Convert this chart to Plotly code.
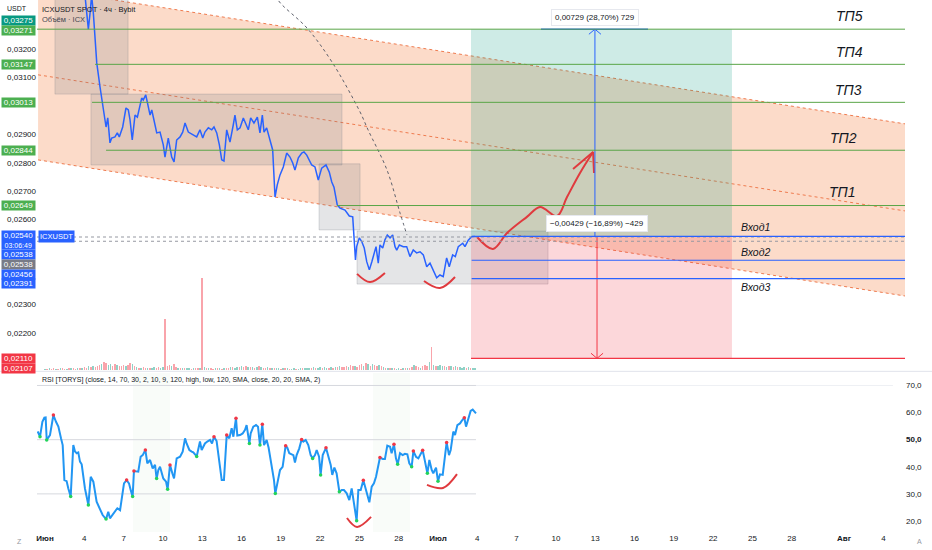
import plotly.graph_objects as go

# ---------------- data ----------------
# x values are days since 1 June (4h chart), prices in USDT
price_day = [2.90, 3.05, 3.31, 3.44, 3.56, 3.69, 3.95, 4.20, 4.45, 4.66, 4.79, 4.96, 5.09, 5.34, 5.52, 5.67, 5.93,
             6.18, 6.36, 6.49, 6.66, 6.87, 7.05, 7.25, 7.38, 7.50, 7.69, 7.81, 8.02, 8.15, 8.32, 8.53, 8.78, 9.03,
             9.16, 9.41, 9.67, 9.85, 10.05, 10.31, 10.51, 10.69, 10.94, 11.32, 11.58, 11.83, 12.04, 12.21, 12.47,
             12.73, 12.90, 13.11, 13.31, 13.49, 13.66, 13.87, 14.12, 14.37, 14.50, 14.68, 14.89, 15.14, 15.34,
             15.52, 15.70, 15.95, 16.21, 16.41, 16.59, 16.72, 16.92, 17.18, 17.38, 17.56, 17.73, 17.94, 18.19,
             18.45, 18.70, 18.91, 19.08, 19.34, 19.60, 19.77, 19.98, 20.36, 20.61, 20.86, 21.12, 21.45, 21.70,
             21.89, 22.06, 22.31, 22.52, 22.90, 23.23, 23.49, 23.62, 23.70, 23.79, 23.99, 24.18, 24.37, 24.56,
             24.76, 24.95, 25.11, 25.27, 25.44, 25.57, 25.78, 25.95, 26.13, 26.34, 26.54, 26.72, 26.85, 27.05,
             27.35, 27.61, 27.86, 28.11, 28.37, 28.63, 28.88, 29.14, 29.39, 29.64, 29.90, 30.15, 30.40, 30.66,
             30.86, 31.12, 31.32, 31.55, 31.89, 32.06, 32.31, 32.57, 32.82]
price_val = [0.03460, 0.03380, 0.03271, 0.03328, 0.03390, 0.03328, 0.03152, 0.03067, 0.02986, 0.02926, 0.02958,
             0.02870, 0.02887, 0.02891, 0.02905, 0.02891, 0.02926, 0.02993, 0.02986, 0.02951, 0.02880, 0.02968,
             0.02961, 0.02997, 0.03028, 0.03021, 0.03039, 0.03014, 0.02968, 0.02986, 0.02951, 0.02905, 0.02908,
             0.02863, 0.02820, 0.02887, 0.02820, 0.02803, 0.02880, 0.02891, 0.02908, 0.02940, 0.02908, 0.02898,
             0.02891, 0.02916, 0.02887, 0.02908, 0.02923, 0.02916, 0.02926, 0.02905, 0.02863, 0.02810, 0.02806,
             0.02916, 0.02873, 0.02933, 0.02968, 0.02916, 0.02923, 0.02958, 0.02933, 0.02916, 0.02958, 0.02940,
             0.02961, 0.02905, 0.02968, 0.02908, 0.02923, 0.02880, 0.02845, 0.02679, 0.02722, 0.02757, 0.02785,
             0.02834, 0.02820, 0.02799, 0.02774, 0.02817, 0.02834, 0.02838, 0.02827, 0.02792, 0.02785, 0.02739,
             0.02781, 0.02792, 0.02767, 0.02732, 0.02714, 0.02651, 0.02640, 0.02633, 0.02612, 0.02609, 0.02535,
             0.02457, 0.02504, 0.02535, 0.02522, 0.02499, 0.02451, 0.02422, 0.02451, 0.02482, 0.02504, 0.02446,
             0.02510, 0.02499, 0.02528, 0.02545, 0.02535, 0.02545, 0.02504, 0.02492, 0.02510, 0.02504, 0.02504,
             0.02469, 0.02492, 0.02482, 0.02486, 0.02475, 0.02433, 0.02446, 0.02422, 0.02394, 0.02404, 0.02398,
             0.02464, 0.02433, 0.02475, 0.02469, 0.02504, 0.02516, 0.02504, 0.02527, 0.02539, 0.02540]

rsi_day = [-0.56, -0.38, -0.20, -0.05, 0.05, 0.13, 0.38, 0.51, 0.64, 0.84,
           1.02, 1.22, 1.35, 1.48, 1.65, 1.78, 1.96, 2.16, 2.29, 2.42,
           2.54, 2.67, 2.80, 3.05, 3.31, 3.49, 3.69, 3.94, 4.20, 4.40,
           4.66, 4.83, 4.96, 5.17, 5.34, 5.52, 5.73, 5.93, 6.03, 6.23,
           6.41, 6.56, 6.69, 6.79, 7.00, 7.12, 7.30, 7.46, 7.66, 7.81,
           8.02, 8.22, 8.40, 8.52, 8.65, 8.78, 9.03, 9.24, 9.36, 9.54,
           9.72, 9.85, 10.05, 10.31, 10.51, 10.69, 10.81, 11.02, 11.20, 11.32,
           11.58, 11.83, 11.96, 12.09, 12.21, 12.39, 12.60, 12.75, 12.90, 13.10,
           13.31, 13.49, 13.66, 13.87, 14.07, 14.25, 14.38, 14.58, 14.68, 14.89,
           15.09, 15.27, 15.39, 15.60, 15.70, 15.90, 16.11, 16.26, 16.41, 16.59,
           16.72, 16.92, 17.07, 17.30, 17.48, 17.58, 17.74, 17.94, 18.14, 18.37,
           18.50, 18.65, 18.83, 18.96, 19.08, 19.21, 19.41, 19.59, 19.72, 19.90,
           20.10, 20.28, 20.43, 20.61, 20.74, 20.92, 21.04, 21.20, 21.45, 21.63,
           21.81, 21.93, 22.09, 22.26, 22.47, 22.65, 22.82, 23.03, 23.23, 23.41,
           23.59, 23.79, 23.92, 24.10, 24.30, 24.43, 24.61, 24.76, 24.94, 25.11,
           25.27, 25.45, 25.57, 25.78, 25.95, 26.13, 26.34, 26.46, 26.64, 26.79,
           26.92, 27.10, 27.30, 27.48, 27.66, 27.81, 27.99, 28.12, 28.32, 28.50,
           28.63, 28.83, 29.01, 29.19, 29.34, 29.52, 29.64, 29.85, 30.00, 30.15,
           30.36, 30.53, 30.66, 30.84, 30.97, 31.17, 31.30, 31.48, 31.68, 31.81,
           32.01, 32.14, 32.32, 32.49, 32.65, 32.75, 32.90]
rsi_val = [53.0, 51.1, 56.6, 58.1, 58.2, 49.9, 51.7, 55.4, 59.1, 56.6,
           54.8, 50.5, 48.0, 35.1, 34.7, 32.0, 29.0, 48.0, 45.6, 45.0,
           45.3, 41.9, 40.9, 32.0, 25.9, 36.3, 34.5, 27.1, 24.0, 22.2,
           20.7, 23.4, 21.0, 22.4, 23.4, 24.7, 24.0, 30.2, 33.9, 35.1,
           33.9, 31.1, 29.0, 38.4, 38.2, 38.2, 43.7, 44.3, 46.2, 41.3,
           42.5, 39.4, 40.7, 35.7, 38.8, 40.0, 35.7, 34.5, 31.7, 40.7,
           37.6, 35.7, 43.1, 43.7, 45.6, 50.5, 48.6, 46.2, 45.6, 45.3,
           43.8, 49.3, 46.2, 47.4, 48.6, 49.3, 49.9, 48.6, 51.1, 49.5,
           42.5, 35.1, 35.1, 51.7, 50.5, 54.2, 51.1, 57.9, 51.5, 51.7,
           52.3, 53.6, 55.4, 48.6, 52.3, 54.8, 55.4, 54.8, 48.0, 55.7,
           48.0, 49.9, 47.0, 40.7, 35.1, 30.1, 34.5, 38.8, 40.0, 47.8,
           47.0, 45.0, 44.6, 44.3, 41.6, 44.3, 46.8, 50.1, 49.3, 49.9,
           48.0, 44.3, 43.1, 44.3, 46.2, 43.7, 37.0, 44.3, 47.0, 44.3,
           40.7, 37.0, 39.7, 37.6, 30.8, 31.4, 31.4, 30.2, 27.7, 32.0,
           26.5, 20.1, 31.4, 31.4, 35.0, 32.7, 29.0, 26.9, 32.7, 33.9,
           36.3, 40.9, 43.4, 42.9, 42.9, 47.8, 47.4, 45.0, 48.3, 43.1,
           40.9, 45.0, 44.3, 44.8, 44.6, 41.3, 40.0, 45.8, 43.7, 43.1,
           44.3, 46.1, 41.9, 37.6, 42.5, 38.8, 37.6, 39.7, 34.7, 37.2,
           37.0, 43.1, 49.0, 44.3, 46.2, 53.0, 51.7, 55.4, 56.0, 56.9,
           58.1, 54.8, 57.9, 60.6, 61.1, 60.6, 59.7]

rsi_hi_day = [0.64, 6.23, 6.79, 7.66, 9.54, 12.90, 13.87, 14.58, 16.59, 18.37, 19.59, 21.45, 24.30, 25.57, 26.64,
              28.12, 28.83, 30.66, 32.01]
rsi_hi_val = [59.1, 35.1, 38.4, 46.2, 40.7, 51.1, 51.7, 57.9, 55.7, 47.8, 50.1, 47.0, 35.0, 43.4, 48.3,
              45.8, 46.1, 49.0, 58.1]
rsi_lo_day = [-0.38, 0.13, 1.96, 3.31, 4.66, 6.69, 8.52, 9.36, 11.58, 15.60, 16.41, 17.58, 20.43, 21.04, 22.47,
              23.79, 26.92, 27.99, 29.19, 30.00]
rsi_lo_val = [51.1, 49.9, 29.0, 25.9, 20.7, 29.0, 35.7, 31.7, 43.8, 48.6, 48.0, 30.1, 43.1, 37.0, 30.8,
              20.1, 40.9, 40.0, 37.6, 34.7]

# volume (thousand ICX) of the 4h bars from 1 June, and bar direction (g = up, r = down)
vol_val = [70, 50, 80, 60, 90, 60, 60, 80, 100, 70, 60, 90, 80, 100, 70, 120, 90, 110,
           150, 120, 200, 160, 180, 140, 220, 260, 300, 400, 350, 250, 280, 200, 320, 250, 180, 220,
           260, 200, 240, 330, 300, 180, 150, 120, 100, 140, 90, 110, 80, 100, 130, 90, 160, 120,
           140, 2550, 200, 260, 180, 300, 150, 120, 90, 100, 80, 110, 90, 70, 100, 80, 120, 90,
           4600, 150, 100, 80, 90, 70, 90, 100, 80, 70, 90, 120, 100, 130, 150, 120, 160, 140,
           180, 150, 200, 170, 140, 160, 120, 150, 180, 130, 100, 120, 140, 110, 90, 100, 120, 80,
           70, 90, 80, 100, 70, 60, 80, 60, 70, 90, 80, 100, 90, 120, 100, 140, 110, 90,
           130, 110, 150, 120, 100, 140, 120, 150, 130, 180, 140, 160, 200, 160, 240, 180, 220, 150,
           250, 300, 200, 350, 280, 220, 300, 240, 200, 260, 180, 150, 120, 90, 110, 80, 100, 70,
           90, 70, 100, 80, 110, 90, 130, 250, 180, 160, 120, 200, 260, 200, 400, 1150, 250, 220,
           200, 250, 180, 220, 160, 200, 180, 150, 200, 140, 160, 120, 130, 110, 150, 120, 100, 90]
vol_dir = ("grgrrg" "rgrrgr" "grrgrg" "rrgrgr" "rrgrrg" "grrgrr" "rgrrgr" "grgrrg" "rggrrg" "grrrgr"
           "rgrgrg" "grgrrg" "rgrgrr" "grgrgr" "rgrggr" "grrgrg" "rgrgrr" "grgrgg" "rgrgrg" "grggrg"
           "ggrgrg" "grggrg" "rgrgrr" "rgrrgr" "rrgrgr" "grrgrg" "rgrgrg" "grgrgr" "rgrrgr" "rrgrgr"
           "gggrgr" "grgrgg" "grgrgg")
bar_hours = 4

tick_day = [0, 3, 6, 9, 12, 15, 18, 21, 24, 27, 30, 33, 36, 39, 42, 45, 48, 51, 54, 57, 61, 64]
tick_text = ["<b>Июн</b>", "4", "7", "10", "13", "16", "19", "22", "25", "28", "<b>Июл</b>", "4", "7", "10",
             "13", "16", "19", "22", "25", "28", "<b>Авг</b>", "4"]

price_ticks = [0.032, 0.031, 0.029, 0.028, 0.027, 0.026, 0.023, 0.022]
rsi_ticks = [20, 30, 40, 50, 60, 70]

# drawings
tp_names = ["ТП1", "ТП2", "ТП3", "ТП4", "ТП5"]
tp_levels = [0.02649, 0.02844, 0.03013, 0.03147, 0.03271]
tp_start = [22.29, 4.66, 3.59, 3.82, -0.61]
tp_label_day = [60.84, 60.92, 61.30, 61.45, 61.45]
tp_label_val = [0.02697, 0.02887, 0.03056, 0.03191, 0.03318]

entry_names = ["Вход1", "Вход2", "Вход3"]
entry_levels = [0.02540, 0.02456, 0.02391]
entry_label_day = [54.27, 54.20, 54.20]
entry_label_val = [0.02573, 0.02485, 0.02362]
stop_level = 0.02110
pos_day = [32.52, 52.44]
draw_end = 65.65

channel_day = [-0.53, 65.65]
channel_top = [0.03416, 0.02937]
channel_mid = [0.03110, 0.02630]
channel_bot = [0.02810, 0.02330]

box_day0 = [0.76, 3.51, 20.92, 23.82]
box_day1 = [6.34, 22.67, 24.05, 38.40]
box_top = [0.0345, 0.03042, 0.02796, 0.02559]
box_bot = [0.03042, 0.02792, 0.02563, 0.02372]

arc_day = [17.55, 17.79, 20.00, 21.91, 24.05, 24.66, 26.11, 27.10, 27.63]
arc_val = [0.03410, 0.03374, 0.03275, 0.03155, 0.02979, 0.02916, 0.02774, 0.02623, 0.02545]

fc_day = [32.98, 34.20, 35.27, 36.79, 37.79, 39.08, 39.85, 40.84, 41.84]
fc_val = [0.02538, 0.02496, 0.02552, 0.02609, 0.02644, 0.02612, 0.02679, 0.02764, 0.02838]
fc_head_day = [40.31, 41.84, 41.91]
fc_head_val = [0.02778, 0.02838, 0.02764]

smile1_day = [23.82, 24.81, 25.95]
smile1_val = [0.02408, 0.02379, 0.02411]
smile2_day = [28.93, 30.15, 31.30]
smile2_val = [0.02383, 0.02358, 0.02397]
rsi_smile1_day = [23.05, 23.82, 24.89]
rsi_smile1_val = [21.1, 17.8, 21.5]
rsi_smile2_day = [29.16, 30.38, 31.45]
rsi_smile2_val = [33.3, 32.2, 37.3]

measure_up_day = 41.98
measure_dn_day = 42.14
measure_cap = [37.86, 46.03]
measure_up_text = "0,00729 (28,70%) 729"
measure_dn_text = "\u22120,00429 (\u221216,89%) \u2212429"
measure_up_label = (42.02, 0.03312)
measure_dn_label = (42.14, 0.02584)

green_bands = [(6.72, 9.54), (25.04, 27.86)]

axis_labels = [
    ("0,03275", 0.03275, "#089981", 8),
    ("0,03271", 0.03271, "#4caf50", -1),
    ("0,03147", 0.03147, "#4caf50", 0),
    ("0,03013", 0.03013, "#4caf50", 0),
    ("0,02844", 0.02844, "#4caf50", 0),
    ("0,02649", 0.02649, "#4caf50", 0),
    ("0,02538", 0.02538, "#2962ff", -17),
    ("0,02538", 0.02538, "#787b86", -27),
    ("0,02456", 0.02456, "#2962ff", -14),
    ("0,02391", 0.02391, "#2962ff", -5),
    ("0,02110", 0.02110, "#f23645", 0),
    ("0,02107", 0.02107, "#f23645", -9),
]

# ---------------- figure ----------------
X_RANGE = [-0.611, 65.65]
P_RANGE = [0.020689, 0.033739]
R_RANGE = [15.94, 74.6]
FONT = "Liberation Sans, Arial, sans-serif"
GREEN_LINE = "#5aa548"
BLUE = "#2962ff"
RED = "#f23645"
DRAW_RED = "#e03a3e"

fig = go.Figure()

# volume
vol_x = [i * bar_hours / 24 for i in range(len(vol_val))]
vol_colors = ["rgba(8,153,129,0.45)" if c == "g" else "rgba(242,54,69,0.45)" for c in vol_dir]
fig.add_trace(go.Bar(x=vol_x, y=vol_val, width=0.11, marker=dict(color=vol_colors, line=dict(width=0)),
                     xaxis="x", yaxis="y3", hoverinfo="skip"))

# price line
fig.add_trace(go.Scatter(x=price_day, y=price_val, mode="lines", line=dict(color=BLUE, width=1.5),
                         xaxis="x", yaxis="y", hoverinfo="skip"))

# dashed arc
fig.add_trace(go.Scatter(x=arc_day, y=arc_val, mode="lines", line=dict(color="#5d606b", width=1, dash="3px,3px",
                         shape="spline"), xaxis="x", yaxis="y", hoverinfo="skip"))

# red hand drawings
for dx, dy in [(fc_day, fc_val), (smile1_day, smile1_val), (smile2_day, smile2_val)]:
    fig.add_trace(go.Scatter(x=dx, y=dy, mode="lines", line=dict(color=DRAW_RED, width=2, shape="spline"),
                             xaxis="x", yaxis="y", hoverinfo="skip"))
fig.add_trace(go.Scatter(x=fc_head_day, y=fc_head_val, mode="lines", line=dict(color=DRAW_RED, width=2),
                         xaxis="x", yaxis="y", hoverinfo="skip"))

# measure arrows
tp5 = tp_levels[-1]
entry = entry_levels[0]
fig.add_trace(go.Scatter(x=[measure_up_day, measure_up_day], y=[entry, tp5], mode="lines",
                         line=dict(color=BLUE, width=1), xaxis="x", yaxis="y", hoverinfo="skip"))
fig.add_trace(go.Scatter(x=[measure_up_day - 0.46, measure_up_day, measure_up_day + 0.46],
                         y=[tp5 - 0.00018, tp5, tp5 - 0.00018], mode="lines",
                         line=dict(color=BLUE, width=1), xaxis="x", yaxis="y", hoverinfo="skip"))
fig.add_trace(go.Scatter(x=measure_cap, y=[tp5, tp5], mode="lines", line=dict(color=BLUE, width=1.5),
                         xaxis="x", yaxis="y", hoverinfo="skip"))
fig.add_trace(go.Scatter(x=[measure_dn_day, measure_dn_day], y=[entry, stop_level], mode="lines",
                         line=dict(color=RED, width=1), xaxis="x", yaxis="y", hoverinfo="skip"))
fig.add_trace(go.Scatter(x=[measure_dn_day - 0.46, measure_dn_day, measure_dn_day + 0.46],
                         y=[stop_level + 0.00018, stop_level, stop_level + 0.00018], mode="lines",
                         line=dict(color=RED, width=1), xaxis="x", yaxis="y", hoverinfo="skip"))
fig.add_trace(go.Scatter(x=[measure_up_day, measure_cap[1]], y=[entry, entry], mode="lines",
                         line=dict(color=RED, width=1), xaxis="x", yaxis="y", hoverinfo="skip"))

# RSI
fig.add_trace(go.Scatter(x=rsi_day, y=rsi_val, mode="lines", line=dict(color="#2196f3", width=2),
                         xaxis="x2", yaxis="y2", hoverinfo="skip"))
fig.add_trace(go.Scatter(x=rsi_hi_day, y=rsi_hi_val, mode="markers", marker=dict(color="#f23645", size=3.5),
                         xaxis="x2", yaxis="y2", hoverinfo="skip"))
fig.add_trace(go.Scatter(x=rsi_lo_day, y=rsi_lo_val, mode="markers", marker=dict(color="#22d35a", size=3.5),
                         xaxis="x2", yaxis="y2", hoverinfo="skip"))
for dx, dy in [(rsi_smile1_day, rsi_smile1_val), (rsi_smile2_day, rsi_smile2_val)]:
    fig.add_trace(go.Scatter(x=dx, y=dy, mode="lines", line=dict(color=DRAW_RED, width=2, shape="spline"),
                             xaxis="x2", yaxis="y2", hoverinfo="skip"))

shapes = []
# channel fill + dotted borders
shapes.append(dict(type="path", xref="x", yref="y", layer="below", line=dict(width=0),
                   fillcolor="rgba(244,137,76,0.30)",
                   path=f"M {channel_day[0]},{channel_top[0]} L {channel_day[1]},{channel_top[1]} "
                        f"L {channel_day[1]},{channel_bot[1]} L {channel_day[0]},{channel_bot[0]} Z"))
for ys in (channel_top, channel_mid, channel_bot):
    shapes.append(dict(type="line", xref="x", yref="y", layer="below", x0=channel_day[0], x1=channel_day[1],
                       y0=ys[0], y1=ys[1], line=dict(color="#ef7b4f", width=1, dash="dot")))
# gray range boxes
for a, b, t, btm in zip(box_day0, box_day1, box_top, box_bot):
    shapes.append(dict(type="rect", xref="x", yref="y", layer="below", x0=a, x1=b, y0=btm, y1=t,
                       fillcolor="rgba(120,123,134,0.20)", line=dict(color="rgba(120,123,134,0.25)", width=1)))
# long position zones
shapes.append(dict(type="rect", xref="x", yref="y", layer="below", x0=pos_day[0], x1=pos_day[1], y0=entry, y1=tp5,
                   fillcolor="rgba(8,153,129,0.20)", line=dict(width=0)))
shapes.append(dict(type="rect", xref="x", yref="y", layer="below", x0=pos_day[0], x1=pos_day[1], y0=stop_level,
                   y1=entry, fillcolor="rgba(242,54,69,0.20)", line=dict(width=0)))
# dotted last price lines
for lvl in (0.02538, 0.02523):
    shapes.append(dict(type="line", xref="x", yref="y", x0=X_RANGE[0], x1=draw_end, y0=lvl, y1=lvl,
                       line=dict(color="#9598a1", width=1, dash="dot")))
# TP lines
for lvl, st in zip(tp_levels, tp_start):
    shapes.append(dict(type="line", xref="x", yref="y", x0=st, x1=draw_end, y0=lvl, y1=lvl,
                       line=dict(color=GREEN_LINE, width=1)))
# entry + stop lines
for lvl in entry_levels:
    shapes.append(dict(type="line", xref="x", yref="y", x0=pos_day[0] + 0.05, x1=draw_end, y0=lvl, y1=lvl,
                       line=dict(color=BLUE, width=1.2)))
shapes.append(dict(type="line", xref="x", yref="y", x0=pos_day[0], x1=draw_end, y0=stop_level, y1=stop_level,
                   line=dict(color=RED, width=1.2)))
# RSI pane
for a, b in green_bands:
    shapes.append(dict(type="rect", xref="x2", yref="y2", layer="below", x0=a, x1=b, y0=R_RANGE[0], y1=R_RANGE[1],
                       fillcolor="rgba(76,175,80,0.035)", line=dict(width=0)))
shapes.append(dict(type="line", xref="x2", yref="y2", layer="below", x0=X_RANGE[0], x1=64.73, y0=70, y1=70,
                   line=dict(color="#eef0f4", width=1)))
for lvl in (70, 50, 30):
    shapes.append(dict(type="line", xref="x2", yref="y2", layer="below", x0=X_RANGE[0], x1=32.9, y0=lvl, y1=lvl,
                       line=dict(color="#d6d8de", width=1)))
# pane separator
shapes.append(dict(type="line", xref="paper", yref="paper", x0=-0.05, x1=1.05, y0=0.3020, y1=0.3020,
                   line=dict(color="#e0e3eb", width=1)))

annotations = []
for lbl, lvl, col, shift in axis_labels:
    annotations.append(dict(xref="paper", yref="y", x=0, y=lvl, xanchor="right", yanchor="middle", xshift=-1,
                            yshift=shift, text=lbl, showarrow=False, bgcolor=col, width=33, height=9,
                            borderpad=0, font=dict(color="white", size=8, family=FONT)))
annotations.append(dict(xref="paper", yref="y", x=0, y=0.02540, xanchor="right", yanchor="middle", xshift=-1,
                        yshift=-4, text="0,02540<br><span style='font-size:7px'>03:06:49</span>", showarrow=False,
                        bgcolor=BLUE, width=33, height=18, borderpad=0,
                        font=dict(color="white", size=8, family=FONT)))
annotations.append(dict(xref="paper", yref="y", x=0, y=0.02540, xanchor="left", yanchor="middle", xshift=1,
                        text="ICXUSDT", showarrow=False, bgcolor=BLUE, borderpad=1,
                        font=dict(color="white", size=7.5, family=FONT)))
for name, dx, dy in zip(tp_names, tp_label_day, tp_label_val):
    annotations.append(dict(xref="x", yref="y", x=dx, y=dy, text=f"<i>{name}</i>", showarrow=False,
                            font=dict(color="#131722", size=14, family=FONT)))
for name, dx, dy in zip(entry_names, entry_label_day, entry_label_val):
    annotations.append(dict(xref="x", yref="y", x=dx, y=dy, text=f"<i>{name}</i>", showarrow=False,
                            font=dict(color="#131722", size=10.5, family=FONT)))
for txt, (dx, dy) in [(measure_up_text, measure_up_label), (measure_dn_text, measure_dn_label)]:
    annotations.append(dict(xref="x", yref="y", x=dx, y=dy, text=txt, showarrow=False, bgcolor="white",
                            bordercolor="#e6e8ee", borderwidth=1, borderpad=3,
                            font=dict(color="#131722", size=8, family=FONT)))
annotations += [
    dict(xref="paper", yref="paper", x=0, y=1, xanchor="left", yanchor="top", xshift=3, yshift=-3,
         text="ICXUSDT SPOT · 4ч · Bybit", showarrow=False, font=dict(size=7.5, color="#131722", family=FONT)),
    dict(xref="paper", yref="paper", x=0, y=1, xanchor="left", yanchor="top", xshift=3, yshift=-13,
         text="Объём · ICX", showarrow=False, font=dict(size=7.5, color="#434651", family=FONT)),
    dict(xref="paper", yref="paper", x=0, y=1, xanchor="right", yanchor="top", xshift=-8, yshift=-3,
         text="USDT", showarrow=False, font=dict(size=7, color="#131722", family=FONT)),
    dict(xref="paper", yref="paper", x=0, y=0.2989, xanchor="left", yanchor="top", xshift=3, yshift=-1,
         text="RSI [TORYS] (close, 14, 70, 30, 2, 10, 9, 120, high, low, 120, SMA, close, 20, 20, SMA, 2)",
         showarrow=False, font=dict(size=7, color="#131722", family=FONT)),
    dict(xref="paper", yref="paper", x=0, y=0, xanchor="right", yanchor="top", xshift=-13, yshift=-4,
         text="Z", showarrow=False, font=dict(size=7, color="#9598a1", family=FONT)),
    dict(xref="paper", yref="paper", x=1, y=0, xanchor="left", yanchor="top", xshift=10, yshift=-4,
         text="A", showarrow=False, font=dict(size=7, color="#9598a1", family=FONT)),
]

fig.update_layout(
    width=932, height=550,
    margin=dict(l=37, r=27, t=0, b=18),
    plot_bgcolor="white", paper_bgcolor="white",
    showlegend=False, bargap=0,
    font=dict(family=FONT, size=8, color="#131722"),
    shapes=shapes, annotations=annotations,
    xaxis=dict(domain=[0, 1], range=X_RANGE, anchor="y", showticklabels=False, showgrid=False, zeroline=False,
               showline=False, ticks=""),
    xaxis2=dict(domain=[0, 1], range=X_RANGE, anchor="y2", matches="x", tickmode="array", tickvals=tick_day,
                ticktext=tick_text, showgrid=False, zeroline=False, showline=False, ticks="",
                tickfont=dict(size=8, color="#131722", family=FONT)),
    yaxis=dict(domain=[0.3045, 1], range=P_RANGE, side="left", tickmode="array", tickvals=price_ticks,
               ticktext=[f"{v:.5f}".replace(".", ",") for v in price_ticks], showgrid=False, zeroline=False,
               showline=False, ticks="", tickfont=dict(size=8, color="#131722", family=FONT)),
    yaxis3=dict(overlaying="y", range=[0, 18500], visible=False, fixedrange=True),
    yaxis2=dict(domain=[0, 0.2989], range=R_RANGE, side="right", anchor="x2", tickmode="array", tickvals=rsi_ticks,
                ticktext=["20,0", "30,0", "40,0", "<b>50,0</b>", "60,0", "70,0"], showgrid=False, zeroline=False,
                showline=False, ticks="", tickfont=dict(size=8, color="#131722", family=FONT)),
)

fig.write_html("out.html", config={"displayModeBar": False},
               post_script="document.body.style.margin='0';document.body.style.overflow='hidden';")
